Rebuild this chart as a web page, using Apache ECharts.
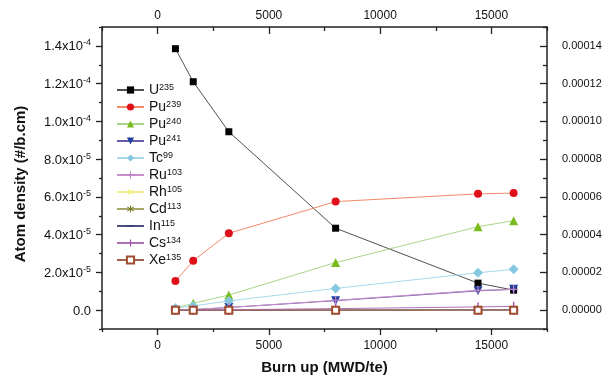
<!DOCTYPE html>
<html><head><meta charset="utf-8">
<script src="https://cdn.jsdelivr.net/npm/echarts@6/dist/echarts.min.js"></script>
<style>html,body{margin:0;padding:0;background:#fff}#c{width:602px;height:380px}</style>
</head><body><div id="c"></div>
<script>
// ---- data ----
const burnup = [800, 1600, 3200, 8000, 14400, 16000];
const U235  = [1.385e-4, 1.21e-4, 9.45e-5, 4.34e-5, 1.43e-5, 1.06e-5];
const Pu239 = [1.54e-5, 2.62e-5, 4.07e-5, 5.75e-5, 6.16e-5, 6.2e-5];
const Pu240 = [0.12e-5, 0.36e-5, 0.8e-5, 2.52e-5, 4.42e-5, 4.74e-5];
const Pu241 = [0.0, 0.02e-5, 0.14e-5, 0.5e-5, 1.02e-5, 1.1e-5];
const Tc99  = [0.1e-5, 0.22e-5, 0.49e-5, 1.15e-5, 1.98e-5, 2.16e-5];
const Ru103 = [0.02e-5, 0.04e-5, 0.14e-5, 0.52e-5, 1.05e-5, 1.1e-5];
const Rh105 = [0.0, 0.0, 0.01e-5, 0.02e-5, 0.03e-5, 0.03e-5];
const Cd113 = [0.0, 0.0, 0.0, 0.01e-5, 0.01e-5, 0.01e-5];
const In115 = [0.0, 0.0, 0.0, 0.0, 0.01e-5, 0.01e-5];
const Cs134 = [0.0, 0.0, 0.02e-5, 0.08e-5, 0.17e-5, 0.2e-5];
const Xe135 = [0.0, 0.0, 0.0, 0.0, 0.0, 0.0];

const seriesNames = ['U235','Pu239','Pu240','Pu241','Tc99','Ru103','Rh105','Cd113','In115','Cs134','Xe135'];
const seriesData  = [U235, Pu239, Pu240, Pu241, Tc99, Ru103, Rh105, Cd113, In115, Cs134, Xe135];

const xMajorTicks = [0, 5000, 10000, 15000];
const xMinorTicks = [-2500, 2500, 7500, 12500, 17500];
const yMajorTicks = [0, 2e-5, 4e-5, 6e-5, 8e-5, 1e-4, 1.2e-4, 1.4e-4];
const yMinorTicks = [-1e-5, 1e-5, 3e-5, 5e-5, 7e-5, 9e-5, 1.1e-4, 1.3e-4, 1.5e-4];
const yLeftMant = ['0.0','2.0x10','4.0x10','6.0x10','8.0x10','1.0x10','1.2x10','1.4x10'];
const yLeftExp  = ['', '-5','-5','-5','-5','-4','-4','-4'];
const yRightLabels = ['0.00000','0.00002','0.00004','0.00006','0.00008','0.00010','0.00012','0.00014'];

// ---- styles ----
const PLUS = 'path://M4.3,0H5.7V4.3H10V5.7H5.7V10H4.3V5.7H0V4.3H4.3Z';
const styles = {
  U235:  {sym:'rect', size:7, color:'#000000', line:'#505050'},
  Pu239: {sym:'circle', size:8, color:'#e0101a', line:'#f08a6a'},
  Pu240: {sym:'triangle', size:9, color:'#7cbb1c', line:'#a9d68a'},
  Pu241: {sym:'triangle', rot:180, size:9, color:'#2040a0', line:'#6a5aa8'},
  Tc99:  {sym:'diamond', size:10, color:'#86c8e2', line:'#a8d8ec'},
  Ru103: {sym:PLUS, size:9, color:'#c080c8', line:'#c890cc'},
  Rh105: {sym:PLUS, rot:45, size:11, color:'#eeee70', line:'#eeee90'},
  Cd113: {sym:'path://M4.4,0H5.6V3.5L8.8,1.6L9.4,2.6L6.2,4.5V5.5L9.4,7.4L8.8,8.4L5.6,6.5V10H4.4V6.5L1.2,8.4L0.6,7.4L3.8,5.5V4.5L0.6,2.6L1.2,1.6L4.4,3.5Z', size:9, color:'#7a7a28', line:'#a6a66a'},
  In115: {sym:'path://M0,0L0.01,0ZM0,4.2H10V5.8H0ZM10,10L9.99,10Z', size:9, color:'#303070', line:'#505080'},
  Cs134: {sym:'path://M0,0L0.01,0ZM4.2,0H5.8V10H4.2ZM10,10L9.99,10Z', size:9, color:'#a050a8', line:'#b070b8'},
  Xe135: {sym:'emptyRect', size:7, color:'#a04a30', line:'#a06050', empty:true}
};

const axisLineStyle = {color:'#222', width:1.5};
const FF = 'Liberation Sans, Arial, sans-serif';
const labelFont = {fontFamily:FF, color:'#111'};

function splitName(n){ const m = n.match(/^([A-Za-z]+)(\d+)$/); return [m[1], m[2]]; }

const series = seriesNames.map((n, i) => {
  const s = styles[n];
  return {
    name: n, type: 'line', xAxisIndex: 0, yAxisIndex: 0,
    data: burnup.map((x, j) => [x, seriesData[i][j]]),
    symbol: s.sym, symbolSize: s.size, symbolRotate: s.rot || 0,
    showAllSymbol: true,
    itemStyle: s.empty ? {color:s.color, borderWidth:1.2} : {color:s.color},
    lineStyle: {color:s.line, width:1},
    emphasis: {disabled:true},
    animation: false
  };
});

function xAxisDef(pos, ticks, len, inside, withLine, withLabel, extra) {
  return Object.assign({
    type:'value', position:pos, min:-2500, max:17500, interval:2500,
    axisLine:{show:withLine, onZero:false, lineStyle:axisLineStyle},
    axisTick:{show:true, customValues:ticks, length:len, inside:inside, lineStyle:{color:'#222', width:1.3}},
    axisLabel:{show:withLabel, customValues:ticks, fontSize:12, margin: pos==='top'?5:11, formatter: v => String(v), ...labelFont},
    splitLine:{show:false}
  }, extra||{});
}
function yAxisDef(pos, ticks, len, inside, withLine, labelCfg, extra) {
  return Object.assign({
    type:'value', position:pos, min:-1e-5, max:1.5e-4, interval:1e-5,
    axisLine:{show:withLine, onZero:false, lineStyle:axisLineStyle},
    axisTick:{show:true, customValues:ticks, length:len, inside:inside, lineStyle:{color:'#222', width:1.3}},
    axisLabel: labelCfg || {show:false},
    splitLine:{show:false}
  }, extra||{});
}

const option = {
  animation: false,
  backgroundColor: '#fff',
  grid: {left:102, right:55, top:27, bottom:51, containLabel:false, outerBoundsMode:'none'},
  legend: {
    orient:'vertical', left:111, top:78, itemWidth:27, itemHeight:9, itemGap:2,
    data: seriesNames,
    formatter: n => { const p = splitName(n); return '{b|' + p[0] + '}{s|' + p[1] + '}'; },
    textStyle: {
      rich: {
        b: {fontSize:14, lineHeight:14, fontFamily:FF, color:'#111', verticalAlign:'bottom'},
        s: {fontSize:9, lineHeight:14, fontFamily:FF, color:'#111', verticalAlign:'top', padding:[0,0,6,0]}
      }
    }
  },
  xAxis: [
    xAxisDef('bottom', xMajorTicks, 6, false, true, true, {
      name:'Burn up (MWD/te)', nameLocation:'middle', nameGap:31,
      nameTextStyle:{fontSize:15, fontWeight:'bold', fontFamily:FF, color:'#111'}
    }),
    xAxisDef('bottom', xMinorTicks, 3, false, false, false),
    xAxisDef('top', xMajorTicks, 7, true, true, true),
    xAxisDef('top', xMinorTicks, 4, true, false, false)
  ],
  yAxis: [
    yAxisDef('left', yMajorTicks, 6, false, true, {
      show:true, customValues:yMajorTicks, margin:11,
      formatter: v => { const k = Math.round(v/2e-5); return yLeftExp[k] ? '{m|' + yLeftMant[k] + '}{e|' + yLeftExp[k] + '}' : '{m|' + yLeftMant[k] + '}'; },
      rich: {
        m: {fontSize:13, lineHeight:15, ...labelFont, verticalAlign:'bottom'},
        e: {fontSize:9, lineHeight:15, ...labelFont, verticalAlign:'top', padding:[0,0,6,0]}
      }
    }, {
      name:'Atom density (#/b.cm)', nameLocation:'middle', nameGap:74,
      nameTextStyle:{fontSize:15, fontWeight:'bold', fontFamily:FF, color:'#111', padding:[0,12,0,0]}
    }),
    yAxisDef('left', yMinorTicks, 3, false, false, null),
    yAxisDef('right', yMajorTicks, 7, true, true, {
      show:true, customValues:yMajorTicks, margin:15, fontSize:11, ...labelFont,
      formatter: v => yRightLabels[Math.round(v/2e-5)]
    }),
    yAxisDef('right', yMinorTicks, 4, true, false, null)
  ],
  series: series
};

const chart = echarts.init(document.getElementById('c'), null, {renderer:'canvas'});
chart.setOption(option);
</script>
</body></html>
